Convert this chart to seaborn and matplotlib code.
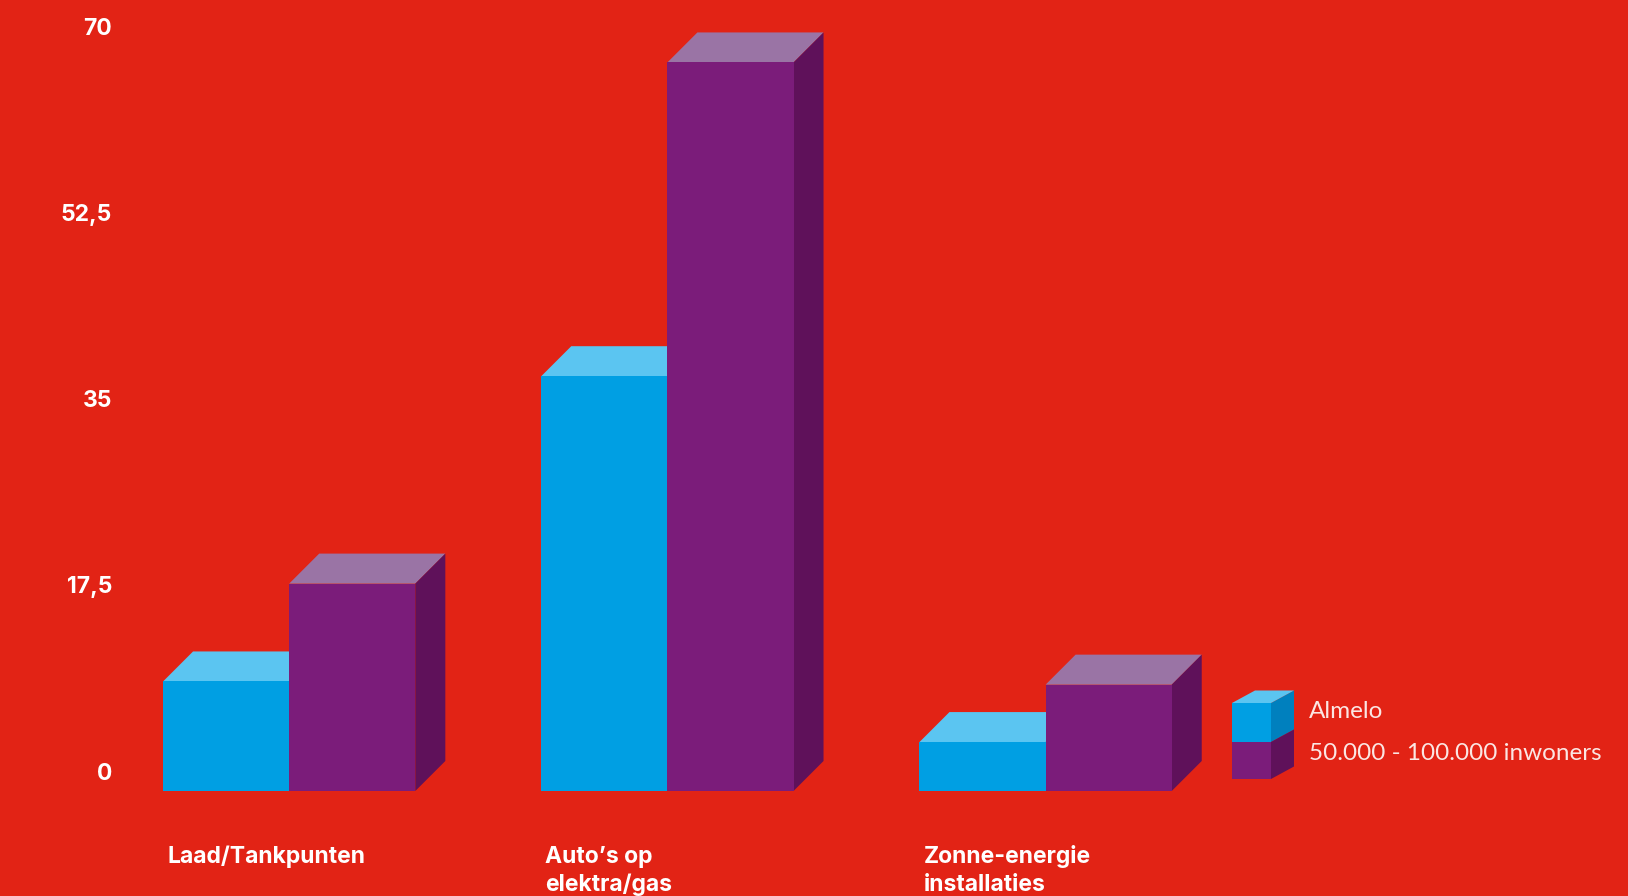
import matplotlib
matplotlib.use("Agg")
import pandas as pd
import seaborn as sns
import matplotlib.pyplot as plt
from matplotlib.patches import Polygon
from matplotlib import transforms

# data
categories = ["Laad/Tankpunten", "Auto’s op\nelektra/gas", "Zonne-energie\ninstallaties"]
series = ["Almelo", "50.000 - 100.000 inwoners"]
almelo = [10.3, 39.0, 4.6]
inwoners = [19.5, 68.5, 10.0]
yticks = [0, 17.5, 35, 52.5, 70]
ytick_labels = ["0", "17,5", "35", "52,5", "70"]

RED = "#E22315"
front_col = ["#009FE3", "#7B1C7A"]
top_col = ["#5BC5F1", "#9A74A5"]
side_col = ["#0080BE", "#5F115A"]

df = pd.DataFrame({
    "categorie": categories * 2,
    "reeks": [series[0]] * 3 + [series[1]] * 3,
    "waarde": almelo + inwoners,
})

sns.set_style("white")
plt.rcParams["font.family"] = ["Inter", "DejaVu Sans"]

W, H, DPI = 1628, 896, 100
fig = plt.figure(figsize=(W / DPI, H / DPI), dpi=DPI, facecolor=RED)

# axes placed in pixels: left edge = y label right edge, bottom = bar baseline
left_px, base_px = 112, 791
unit_x, unit_y = 378.2, 10.636   # px per category / per value unit
x0, x1 = -(289.2 - left_px) / unit_x, 2.5
ymax = 72
ax = fig.add_axes([left_px / W, (H - base_px) / H,
                   (x1 - x0) * unit_x / W, ymax * unit_y / H])
ax.set_facecolor(RED)

sns.barplot(data=df, x="categorie", y="waarde", hue="reeks",
            palette=dict(zip(series, front_col)), width=0.667,
            saturation=1, linewidth=0, legend=False, zorder=3, ax=ax)

ax.set_xlim(x0, x1)
ax.set_ylim(0, ymax)
sns.despine(ax=ax, left=True, bottom=True)
ax.set_xticks([])
ax.set_yticks([])
ax.set_xlabel("")
ax.set_ylabel("")

# 3d depth of the bars
DEPTH = 30
p0 = ax.transData.transform((0, 0))
p1 = ax.transData.transform((1, 1))
dx = DEPTH / (p1[0] - p0[0])
dy = DEPTH / (p1[1] - p0[1])

for i, cont in enumerate(ax.containers):
    for bar in cont:
        x, w, h = bar.get_x(), bar.get_width(), bar.get_height()
        ax.add_patch(Polygon([(x, h), (x + dx, h + dy), (x + w + dx, h + dy), (x + w, h)],
                             closed=True, facecolor=top_col[i], lw=0, zorder=2, clip_on=False))
        ax.add_patch(Polygon([(x + w, 0), (x + w + dx, dy), (x + w + dx, h + dy), (x + w, h)],
                             closed=True, facecolor=side_col[i], lw=0, zorder=2, clip_on=False))

# y labels, shifted up a bit like the reference
up = transforms.ScaledTranslation(0, 17.5 / DPI, fig.dpi_scale_trans)
for v, lab in zip(yticks, ytick_labels):
    ax.text(0, v, lab, transform=ax.get_yaxis_transform() + up, ha="right", va="center",
            color="white", fontsize=16.5, fontweight="bold")

# category labels under the groups, left aligned, one text per line
for bar, cat in zip(ax.containers[0], categories):
    for k, line in enumerate(cat.split("\n")):
        down = transforms.ScaledTranslation(4 / DPI, -(71.7 + 28.5 * k) / DPI,
                                            fig.dpi_scale_trans)
        ax.text(bar.get_x(), 0, line, transform=ax.transData + down, ha="left",
                va="baseline", color="white", fontsize=16.5, fontweight="bold",
                clip_on=False)

# legend with little cubes (pixel coords, y from bottom)
pix = transforms.IdentityTransform()
lx0, lx1, ldx, ldy = 1232, 1271, 23, 12.5
rows = [(703, 742), (742, 779)]
for i, (ya, yb) in enumerate(rows):
    t, b = H - ya, H - yb
    fig.add_artist(Polygon([(lx0, b), (lx1, b), (lx1, t), (lx0, t)], closed=True,
                           facecolor=front_col[i], lw=0, transform=pix))
    fig.add_artist(Polygon([(lx1, b), (lx1 + ldx, b + ldy), (lx1 + ldx, t + ldy), (lx1, t)],
                           closed=True, facecolor=side_col[i], lw=0, transform=pix))
fig.add_artist(Polygon([(lx0, H - 703), (lx0 + ldx, H - 703 + ldy), (lx1 + ldx, H - 703 + ldy),
                        (lx1, H - 703)], closed=True, facecolor=top_col[0], lw=0, transform=pix))
for name, yc in zip(series, [712, 753]):
    fig.text(1309 / W, 1 - yc / H, name, ha="left", va="center", color="#FBE6E3",
             fontsize=17.5, fontweight="normal", family=["Lato", "DejaVu Sans"])

fig.savefig("out.png", dpi=DPI, facecolor=RED)
